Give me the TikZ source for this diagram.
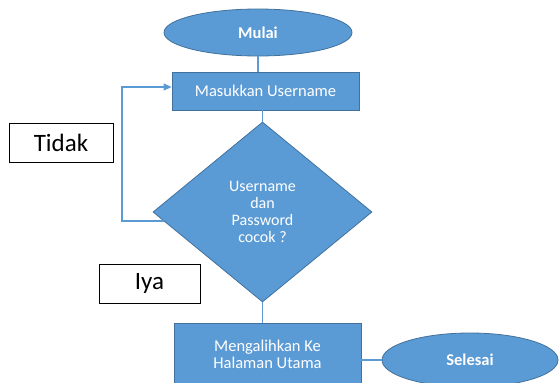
\documentclass[tikz,border=0pt]{standalone}
\usepackage{fontspec}
\setmainfont{Carlito}
\usetikzlibrary{shapes.geometric,arrows.meta,calc}
\definecolor{fillblue}{HTML}{5B9BD5}
\definecolor{edgeblue}{HTML}{41719C}
\begin{document}
\begin{tikzpicture}[x=1pt,y=-1pt,
  term/.style={ellipse, draw=edgeblue, line width=0.8pt, fill=fillblue, text=white,
    font=\fontsize{16.5}{18}\selectfont\bfseries, inner sep=0pt},
  procbox/.style={rectangle, draw=edgeblue, line width=0.8pt, fill=fillblue, text=white,
    font=\fontsize{16.5}{17}\selectfont, align=center, inner sep=0pt},
  decision/.style={diamond, draw=edgeblue, line width=0.8pt, fill=fillblue, text=white,
    font=\fontsize{16}{17}\selectfont, align=center, inner sep=0pt, aspect=1.2},
  labelbox/.style={rectangle, draw=black, line width=1pt, fill=white,
    font=\fontsize{25}{27}\selectfont, inner sep=0pt},
  conn/.style={draw=fillblue, line width=1.3pt},
]
\useasboundingbox (0,0) rectangle (560,383);
\fill[white] (0,0) rectangle (560,383);

\node[term, minimum width=188pt, minimum height=47pt] (mulai) at (258,32.5) {Mulai};
\node[procbox, minimum width=187pt, minimum height=38pt] (input) at (265.5,91) {Masukkan Username};
\node[decision, minimum width=219pt, minimum height=180pt] (cek) at (262.5,212) {Username\\dan\\Password\\cocok ?};
\node[procbox, minimum width=187pt, minimum height=63pt] (redirect) at (267.5,354.5) {Mengalihkan Ke\\Halaman Utama};
\node[term, minimum width=176pt, minimum height=54pt] (selesai) at (470,360) {Selesai};
\node[labelbox, minimum width=104pt, minimum height=39pt] (tidak) at (61,142.5) {Tidak};
\node[labelbox, minimum width=101pt, minimum height=39pt] (iya) at (149.5,283.5) {Iya};

\coordinate (loopstart) at ($(cek.west)!0.1!(cek.south)$);
\coordinate (loopx) at (122,0);
\coordinate (loopend) at ($(input.west)+(0,-4)$);

\draw[conn] (mulai.south) -- (mulai.south |- input.north);
\draw[conn] (cek.north |- input.south) -- (cek.north);
\draw[conn] (cek.south) -- (cek.south |- redirect.north);
\draw[conn] (selesai.west -| redirect.east) -- (selesai.west);
\draw[conn, line width=1.1pt, -{Triangle[width=7pt,length=8pt]}]
  (loopstart) -- (loopstart -| loopx) |- (loopend);
\end{tikzpicture}
\end{document}
